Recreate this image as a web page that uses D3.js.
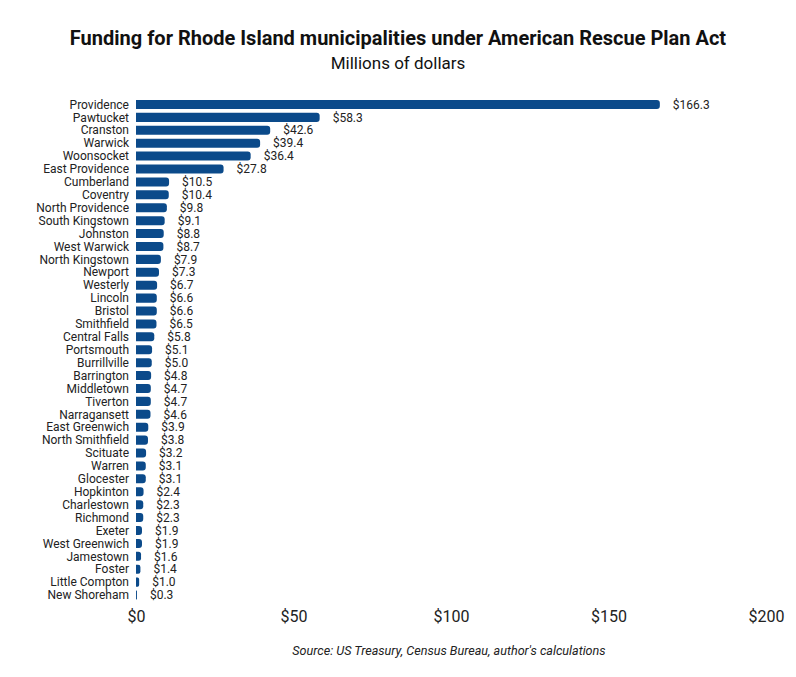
<!DOCTYPE html>
<html>
<head>
<meta charset="utf-8">
<script src="https://d3js.org/d3.v7.min.js"></script>
<style>
  body { margin: 0; background: #fff; font-family: Roboto, "Noto Sans", sans-serif; }
</style>
</head>
<body>
<svg id="viz" width="796" height="677"></svg>
<script>
const towns = ["Providence", "Pawtucket", "Cranston", "Warwick", "Woonsocket", "East Providence",
  "Cumberland", "Coventry", "North Providence", "South Kingstown", "Johnston", "West Warwick",
  "North Kingstown", "Newport", "Westerly", "Lincoln", "Bristol", "Smithfield", "Central Falls",
  "Portsmouth", "Burrillville", "Barrington", "Middletown", "Tiverton", "Narragansett",
  "East Greenwich", "North Smithfield", "Scituate", "Warren", "Glocester", "Hopkinton",
  "Charlestown", "Richmond", "Exeter", "West Greenwich", "Jamestown", "Foster",
  "Little Compton", "New Shoreham"];
const funding = [166.3, 58.3, 42.6, 39.4, 36.4, 27.8,
  10.5, 10.4, 9.8, 9.1, 8.8, 8.7,
  7.9, 7.3, 6.7, 6.6, 6.6, 6.5, 5.8,
  5.1, 5.0, 4.8, 4.7, 4.7, 4.6,
  3.9, 3.8, 3.2, 3.1, 3.1, 2.4,
  2.3, 2.3, 1.9, 1.9, 1.6, 1.4,
  1.0, 0.3];
const xTicks = [0, 50, 100, 150, 200];

const svg = d3.select("#viz");
const barColor = "#0b4a8a";
const textColor = "#222";

// title + subtitle
svg.append("text")
  .attr("x", 398).attr("y", 45)
  .attr("text-anchor", "middle")
  .style("font-size", "20px").style("font-weight", "bold").style("fill", "#111")
  .text("Funding for Rhode Island municipalities under American Rescue Plan Act");
svg.append("text")
  .attr("x", 398).attr("y", 69)
  .attr("text-anchor", "middle")
  .style("font-size", "17px").style("fill", "#111")
  .text("Millions of dollars");

var x = d3.scaleLinear().domain([0, 200]).range([136, 766]);
var y = d3.scaleBand().domain(towns).range([98, 601.5]).paddingInner(0.3).paddingOuter(0.15);

var data = towns.map((t, i) => ({ name: t, value: funding[i] }));

// bar with rounded right end only
function barPath(d) {
  var x0 = x(0), x1 = x(d.value), y0 = y(d.name), h = y.bandwidth();
  var r = Math.min(3, (x1 - x0) / 2, h / 2);
  return "M" + x0 + "," + y0 +
    "H" + (x1 - r) +
    "A" + r + "," + r + " 0 0 1 " + x1 + "," + (y0 + r) +
    "V" + (y0 + h - r) +
    "A" + r + "," + r + " 0 0 1 " + (x1 - r) + "," + (y0 + h) +
    "H" + x0 + "Z";
}

svg.append("g").selectAll("path")
  .data(data).enter()
  .append("path")
  .attr("d", barPath)
  .style("fill", barColor);

// town names
svg.append("g").selectAll("text")
  .data(data).enter()
  .append("text")
  .attr("x", 129)
  .attr("y", d => y(d.name) + y.bandwidth() / 2)
  .attr("dy", "0.35em")
  .attr("text-anchor", "end")
  .style("font-size", "12px").style("fill", textColor)
  .text(d => d.name);

// values
svg.append("g").selectAll("text")
  .data(data).enter()
  .append("text")
  .attr("x", d => x(d.value) + 13)
  .attr("y", d => y(d.name) + y.bandwidth() / 2)
  .attr("dy", "0.35em")
  .style("font-size", "12px").style("fill", textColor)
  .text(d => "$" + d.value.toFixed(1));

// x axis, labels only
var xAxis = d3.axisBottom(x).tickValues(xTicks).tickSize(0).tickPadding(0)
  .tickFormat(d => "$" + d);
var gx = svg.append("g")
  .attr("transform", "translate(0,611)")
  .call(xAxis);
gx.select(".domain").remove();
gx.selectAll("text").style("font-size", "16px").style("fill", textColor)
  .style("font-family", "Roboto, sans-serif");

// source
svg.append("text")
  .attr("x", 449).attr("y", 655)
  .attr("text-anchor", "middle")
  .style("font-size", "12.6px").style("font-style", "italic").style("fill", textColor)
  .text("Source: US Treasury, Census Bureau, author's calculations");
</script>
</body>
</html>
